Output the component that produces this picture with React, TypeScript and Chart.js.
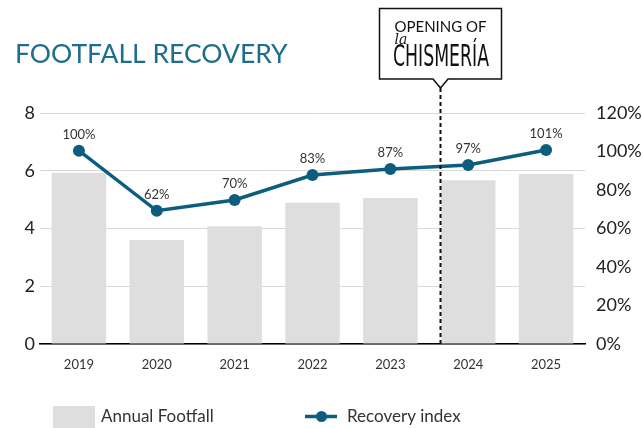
import React, { useEffect, useRef } from "react";
import { Chart, registerables } from "chart.js";

Chart.register(...registerables);

const YEARS = ["2019", "2020", "2021", "2022", "2023", "2024", "2025"];
const ANNUAL_FOOTFALL = [5.93, 3.6, 4.08, 4.89, 5.06, 5.67, 5.89];
const RECOVERY_INDEX = [100.4, 69.2, 74.8, 87.8, 90.9, 93.0, 100.8];
const RECOVERY_LABELS = ["100%", "62%", "70%", "83%", "87%", "97%", "101%"];
const LEFT_TICKS = { min: 0, max: 8, step: 2 };
const RIGHT_TICKS = { min: 0, max: 120, step: 20 };
const OPENING_YEAR_INDEX = 5;
const TITLE = "FOOTFALL RECOVERY";
const CALLOUT_TOP = "OPENING OF";
const CALLOUT_BRAND = "CHISMERÍA";
const LEGEND_BAR = "Annual Footfall";
const LEGEND_LINE = "Recovery index";

const FONT = "Lato, 'Open Sans', sans-serif";
const BAR_COLOR = "#dedede";
const LINE_COLOR = "#0d5e7e";
const TITLE_COLOR = "#1f6d8c";

const overlayPlugin = {
  id: "overlay",
  afterDatasetsDraw(chart: any) {
    const ctx = chart.ctx;
    const lineMeta = chart.getDatasetMeta(1);
    ctx.save();
    ctx.fillStyle = "#333";
    ctx.font = `13px ${FONT}`;
    ctx.textAlign = "center";
    ctx.textBaseline = "middle";
    lineMeta.data.forEach((pt: any, i: number) => {
      ctx.fillText(RECOVERY_LABELS[i], pt.x, pt.y - 16);
    });
    ctx.restore();
  },
  afterDraw(chart: any) {
    const ctx = chart.ctx;
    const area = chart.chartArea;
    const barMeta = chart.getDatasetMeta(0);
    const bar = barMeta.data[OPENING_YEAR_INDEX];
    const divX = Math.round(bar.x - bar.width / 2) - 0.5;

    ctx.save();
    // title
    ctx.fillStyle = TITLE_COLOR;
    ctx.font = `26.5px ${FONT}`;
    ctx.textAlign = "left";
    ctx.textBaseline = "alphabetic";
    ctx.fillText(TITLE, 15, 63);

    // callout box
    const bw = 122;
    const left = divX - bw / 2;
    const right = divX + bw / 2;
    const top = 8.5;
    const bottom = 79;
    const tipH = 9;
    const tipW = 7.5;
    ctx.beginPath();
    ctx.moveTo(left, top);
    ctx.lineTo(right, top);
    ctx.lineTo(right, bottom);
    ctx.lineTo(divX + tipW, bottom);
    ctx.lineTo(divX, bottom + tipH);
    ctx.lineTo(divX - tipW, bottom);
    ctx.lineTo(left, bottom);
    ctx.closePath();
    ctx.fillStyle = "#fff";
    ctx.fill();
    ctx.strokeStyle = "#111";
    ctx.lineWidth = 1.5;
    ctx.stroke();

    ctx.fillStyle = "#111";
    ctx.textAlign = "center";
    ctx.font = `15px ${FONT}`;
    ctx.fillText(CALLOUT_TOP, divX, 31.5);

    ctx.font = `31px 'DejaVu Sans Condensed', 'Liberation Sans Narrow', sans-serif`;
    const w = ctx.measureText(CALLOUT_BRAND).width;
    const target = 96;
    ctx.save();
    ctx.translate(divX + 0.5, 66);
    ctx.scale(target / w, 1);
    ctx.fillText(CALLOUT_BRAND, 0, 0);
    ctx.restore();

    ctx.font = `italic 14px 'DejaVu Serif', serif`;
    ctx.textAlign = "left";
    ctx.fillText("la", left + 15, 44);

    // dashed divider
    ctx.beginPath();
    ctx.setLineDash([4, 3]);
    ctx.lineWidth = 2;
    ctx.strokeStyle = "#111";
    ctx.moveTo(divX, bottom + tipH);
    ctx.lineTo(divX, area.bottom);
    ctx.stroke();
    ctx.setLineDash([]);

    // legend
    const ly = 416.5;
    ctx.fillStyle = BAR_COLOR;
    ctx.fillRect(53, 406, 42, 22);
    ctx.fillStyle = "#333";
    ctx.font = `17px ${FONT}`;
    ctx.textAlign = "left";
    ctx.textBaseline = "middle";
    ctx.fillText(LEGEND_BAR, 101, ly);

    ctx.strokeStyle = LINE_COLOR;
    ctx.lineWidth = 3.5;
    ctx.beginPath();
    ctx.moveTo(305, ly);
    ctx.lineTo(337, ly);
    ctx.stroke();
    ctx.fillStyle = LINE_COLOR;
    ctx.beginPath();
    ctx.arc(321.5, ly, 5.5, 0, Math.PI * 2);
    ctx.fill();
    ctx.fillStyle = "#333";
    ctx.fillText(LEGEND_LINE, 347, ly);
    ctx.restore();
  },
};

export default function App() {
  const ref = useRef<HTMLCanvasElement | null>(null);

  useEffect(() => {
    if (!ref.current) return;
    const chart = new Chart(ref.current, {
      type: "bar",
      data: {
        labels: YEARS,
        datasets: [
          {
            type: "bar",
            label: LEGEND_BAR,
            data: ANNUAL_FOOTFALL,
            backgroundColor: BAR_COLOR,
            barPercentage: 0.7,
            categoryPercentage: 1,
            yAxisID: "y",
            order: 2,
          } as any,
          {
            type: "line",
            label: LEGEND_LINE,
            data: RECOVERY_INDEX,
            borderColor: LINE_COLOR,
            backgroundColor: LINE_COLOR,
            borderWidth: 3.5,
            pointRadius: 6,
            pointBackgroundColor: LINE_COLOR,
            pointBorderWidth: 0,
            tension: 0,
            yAxisID: "y1",
            order: 1,
          } as any,
        ],
      },
      options: {
        responsive: false,
        animation: false,
        layout: { padding: { top: 113, bottom: 0, left: 0, right: 0 } },
        plugins: {
          legend: { display: false },
          title: { display: false },
          tooltip: { enabled: false },
        },
        scales: {
          x: {
            grid: { display: false },
            border: { display: true, color: "#000", width: 1.5 },
            ticks: { font: { size: 13, family: FONT }, color: "#333", padding: 5 },
            afterFit: (s: any) => {
              s.height = 84;
            },
          },
          y: {
            position: "left",
            min: LEFT_TICKS.min,
            max: LEFT_TICKS.max,
            ticks: { stepSize: LEFT_TICKS.step, font: { size: 18, family: FONT }, color: "#222", padding: 5 },
            grid: { color: "#d9d9d9", drawTicks: false, lineWidth: 1 },
            border: { display: false },
            afterFit: (s: any) => {
              s.width = 40;
            },
          },
          y1: {
            position: "right",
            min: RIGHT_TICKS.min,
            max: RIGHT_TICKS.max,
            ticks: {
              stepSize: RIGHT_TICKS.step,
              font: { size: 18, family: FONT },
              color: "#222",
              padding: 11,
              callback: (v: any) => `${v}%`,
            },
            grid: { display: false, drawTicks: false },
            border: { display: false },
            afterFit: (s: any) => {
              s.width = 58;
            },
          },
        },
      } as any,
      plugins: [overlayPlugin],
    });
    return () => chart.destroy();
  }, []);

  return (
    <div style={{ position: "fixed", left: 0, top: 0, width: 643, height: 428, background: "#fff" }}>
      <canvas ref={ref} width={643} height={428} style={{ display: "block" }} />
    </div>
  );
}
